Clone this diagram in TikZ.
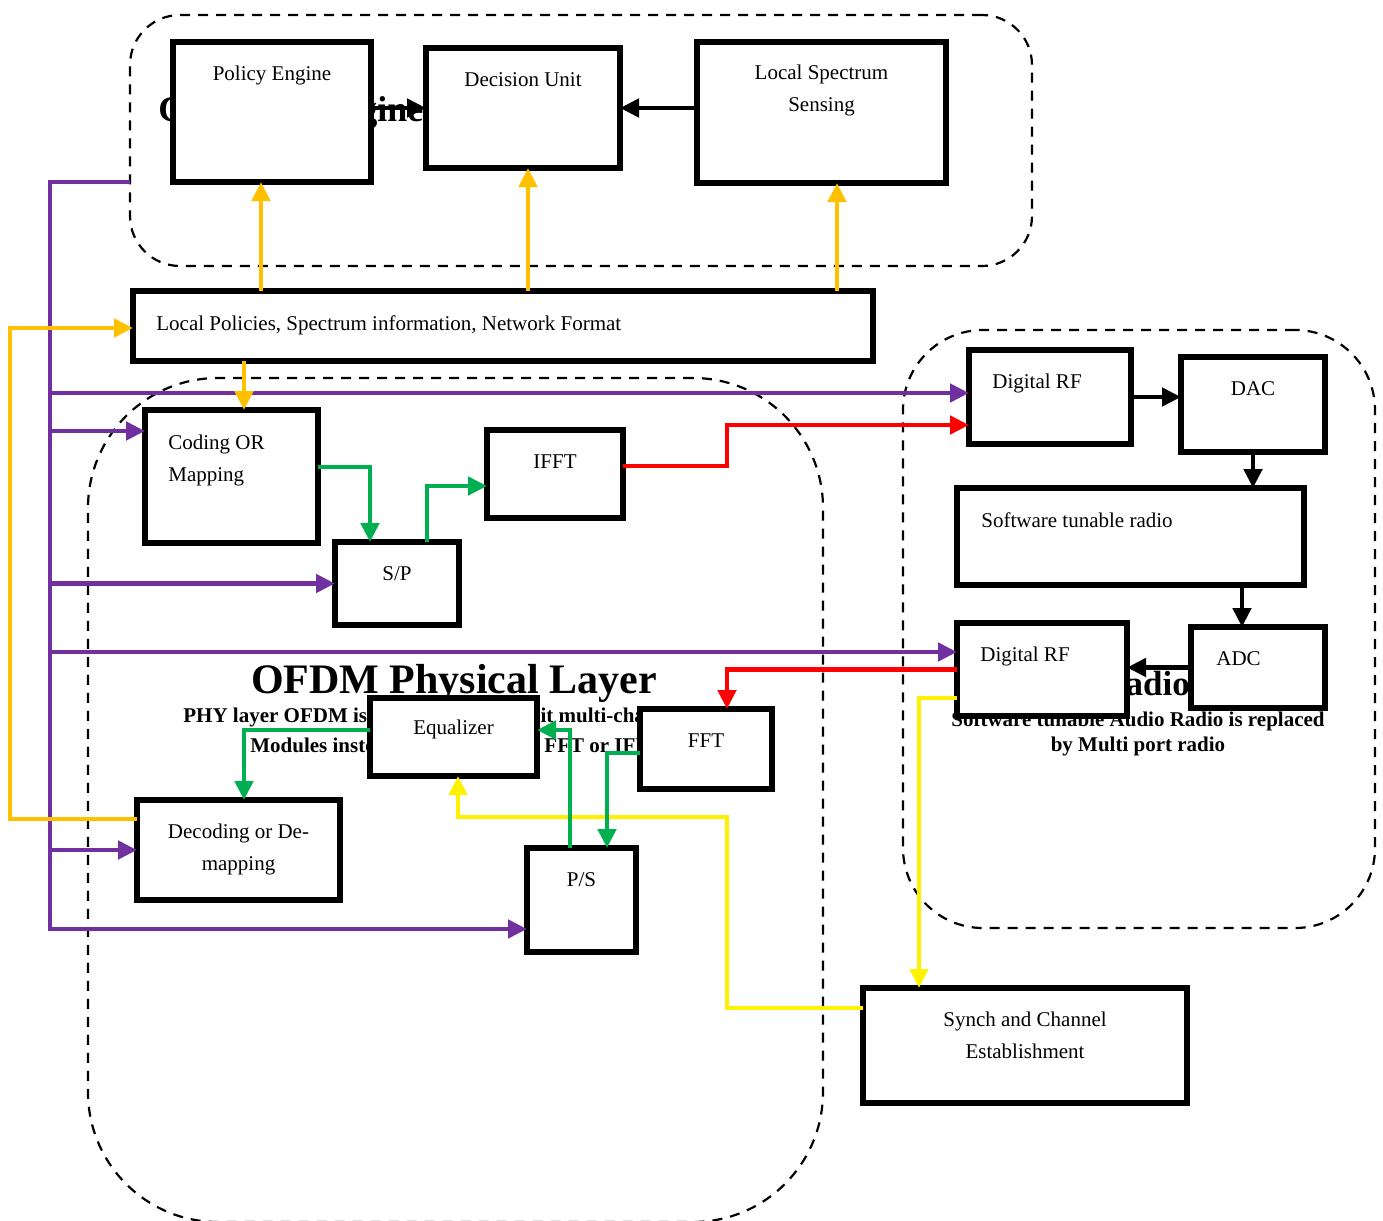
\documentclass[tikz,border=0pt]{standalone}
\usepackage{fontspec}
\setmainfont{Liberation Serif}
\usetikzlibrary{positioning,arrows.meta}

\definecolor{orng}{HTML}{FFC000}
\definecolor{purp}{HTML}{7030A0}
\definecolor{grn}{HTML}{00B050}

\tikzset{
	region/.style={draw,dash pattern=on 5pt off 4pt,line width=1.1pt,inner sep=0pt,outer sep=0pt},
	box/.style={draw,line width=2.6pt,fill=white,inner sep=0pt,outer sep=0pt},
	txt/.style={font=\fontsize{10.5}{16}\selectfont,inner sep=0pt,align=center},
	ltxt/.style={font=\fontsize{10.5}{16}\selectfont,inner sep=0pt,align=left},
	bigtxt/.style={font=\bfseries\fontsize{17.5}{20}\selectfont,inner sep=0pt},
	btxt/.style={font=\bfseries\fontsize{10.5}{12.5}\selectfont,inner sep=0pt,align=center},
	wire/.style={line width=2.4pt,->},
}

\begin{document}
\begin{tikzpicture}[x=0.5pt,y=-0.5pt,>={Triangle[length=9.5pt,width=9pt]}]
			\useasboundingbox (0,0) rectangle (1383,1221);
			
			% regions
			\node[region,rounded corners=25pt,anchor=north west,minimum width=451pt,minimum height=125.5pt] (cog) at (130,15) {};
			\node[region,rounded corners=65pt,anchor=north west,minimum width=367.5pt,minimum height=422pt] (ofdm) at (88,378) {};
			\node[region,rounded corners=40pt,anchor=north west,minimum width=236pt,minimum height=299pt] (radio) at (903,330) {};
			
			% titles (partly hidden by the boxes)
			\node[bigtxt,font=\bfseries\fontsize{18}{20}\selectfont,anchor=base west] (cogt) at (158,121) {Cognitive Engine};
			\node[bigtxt,font=\bfseries\fontsize{21}{24}\selectfont,anchor=base] (ofdmt) at (454,693) {OFDM Physical Layer};
			\node[btxt,anchor=base west] (phya) at (183,722) {PHY layer OFDM is replaced with a split multi-channel};
			\node[btxt,anchor=base west] (phyb) at (250,752) {Modules instead of conventional FFT or IFFT};
			\node[bigtxt,anchor=base west] (radiot) at (1100,695) {Radio};
			\node[btxt,anchor=north] (radiod) at (1138,711) {Software tunable Audio Radio is replaced\\by Multi port radio};
			
			% boxes
			\node[box,anchor=north west,minimum width=99pt,minimum height=70pt] (pe) at (173,42) {};
			\node[box,anchor=north west,minimum width=97pt,minimum height=60pt] (du) at (426,48) {};
			\node[box,anchor=north west,minimum width=124.5pt,minimum height=70.5pt] (lss) at (697,42) {};
			\node[box,anchor=north west,minimum width=370pt,minimum height=35pt] (lp) at (133,291) {};
			\node[box,anchor=north west,minimum width=86.5pt,minimum height=66.5pt] (cm) at (145,410) {};
			\node[box,anchor=north west,minimum width=68pt,minimum height=44pt] (ifft) at (487,430) {};
			\node[box,anchor=north west,minimum width=62pt,minimum height=41.5pt] (sp) at (335,542) {};
			\node[box,anchor=north west,minimum width=81pt,minimum height=47pt] (drfa) at (969,350) {};
			\node[box,anchor=north west,minimum width=72pt,minimum height=47.5pt] (dac) at (1181,357) {};
			\node[box,anchor=north west,minimum width=173.5pt,minimum height=48.5pt] (str) at (957,488) {};
			\node[box,anchor=north west,minimum width=85pt,minimum height=46.5pt] (drfb) at (957,623) {};
			\node[box,anchor=north west,minimum width=67pt,minimum height=40.5pt] (adc) at (1191,627) {};
			\node[box,anchor=north west,minimum width=83.5pt,minimum height=39pt] (eq) at (370,698) {};
			\node[box,anchor=north west,minimum width=66pt,minimum height=40pt] (fft) at (640,709) {};
			\node[box,anchor=north west,minimum width=101.5pt,minimum height=50pt] (dec) at (137,800) {};
			\node[box,anchor=north west,minimum width=54.5pt,minimum height=52pt] (ps) at (527,848) {};
			\node[box,anchor=north west,minimum width=162pt,minimum height=57.5pt] (syn) at (863,988) {};
			
			% box texts
			\node[txt,below=12pt of pe.north] (pet) {Policy Engine};
			\node[txt,below=12pt of du.north] (dut) {Decision Unit};
			\node[txt,below=11.5pt of lss.north] (lsst) {Local Spectrum\\Sensing};
			\node[ltxt,below right=12pt and 11.5pt of lp.north west] (lpt) {Local Policies, Spectrum information, Network Format};
			\node[ltxt,below right=12.5pt and 11.5pt of cm.north west] (cmt) {Coding OR\\Mapping};
			\node[txt,below=12pt of ifft.north] (ifftt) {IFFT};
			\node[txt,below=12pt of sp.north] (spt) {S/P};
			\node[ltxt,below right=12pt and 11.5pt of drfa.north west] (drfat) {Digital RF};
			\node[txt,below=12pt of dac.north] (dact) {DAC};
			\node[ltxt,below right=12pt and 12pt of str.north west] (strt) {Software tunable radio};
			\node[ltxt,below right=12pt and 11.5pt of drfb.north west] (drfbt) {Digital RF};
			\node[ltxt,below right=12pt and 12.5pt of adc.north west] (adct) {ADC};
			\node[txt,below=11pt of eq.north] (eqt) {Equalizer};
			\node[txt,below=12pt of fft.north] (fftt) {FFT};
			\node[txt,below=12pt of dec.north] (dect) {Decoding or De-\\mapping};
			\node[txt,below=12pt of ps.north] (pst) {P/S};
			\node[txt,below=12pt of syn.north] (synt) {Synch and Channel\\Establishment};
			
			% control bus
			\coordinate (bus) at (50,182);
			\draw[wire,purp] (cog.west |- bus) -- (bus) |- ([yshift=-14.5pt]ps.west);
			\draw[wire,purp,<-] ([yshift=2pt]drfa.west) -| (bus);
			\draw[wire,purp,<-] ([yshift=22.75pt]cm.west) -| (bus);
			\draw[wire,purp,<-] (sp.west) -| (bus);
			\draw[wire,purp,<-] ([yshift=8.75pt]drfb.west) -| (bus);
			\draw[wire,purp,<-] (dec.west) -| (bus);
			
			% policies
			\draw[wire,orng] ([xshift=-5.5pt]pe.south |- lp.north) -- ([xshift=-5.5pt]pe.south);
			\draw[wire,orng] ([xshift=2.5pt]du.south |- lp.north) -- ([xshift=2.5pt]du.south);
			\draw[wire,orng] ([xshift=7.75pt]lss.south |- lp.north) -- ([xshift=7.75pt]lss.south);
			\draw[wire,orng] ([xshift=6.25pt]cm.north |- lp.south) -- ([xshift=6.25pt]cm.north);
			\draw[wire,orng] ([yshift=15.5pt]dec.west) -- ++(-127,0) |- ([yshift=-1pt]lp.west);
			
			% synch
			\draw[wire,yellow] ([yshift=-14.25pt]drfb.west) -| ([xshift=-53pt]syn.north);
			\draw[wire,yellow] ([yshift=18.75pt]syn.west) -- ++(-136,0) -- ++(0,-191) -| ([xshift=2.25pt]eq.south);
			
			% rf path
			\draw[wire,red] ([yshift=4pt]ifft.east) -- ++(104,0) |- ([yshift=-14pt]drfa.west);
			\draw[wire,red] (drfb.west) -| ([xshift=10.5pt]fft.north);
			
			% data path
			\draw[wire,grn] ([yshift=4.75pt]cm.east) -| ([xshift=-13.5pt]sp.north);
			\draw[wire,grn] ([xshift=15pt]sp.north) |- ([yshift=-6pt]ifft.west);
			\draw[wire,grn] ([yshift=-2pt]fft.west) -| ([xshift=12.75pt]ps.north);
			\draw[wire,grn] ([xshift=-5.75pt]ps.north) |- ([yshift=3.5pt]eq.east);
			\draw[wire,grn] ([yshift=3.5pt]eq.west) -| ([xshift=2.75pt]dec.north);
			
			\draw[wire,black] (pe.east |- du.west) -- (du.west);
			\draw[wire,black] (lss.west |- du.east) -- (du.east);
			\draw[wire,black] (drfa.east) -- (drfa.east -| dac.west);
			\draw[wire,black] (dac.south) -- (dac.south |- str.north);
			\draw[wire,black] ([xshift=-8pt]adc.north |- str.south) -- ([xshift=-8pt]adc.north);
			\draw[wire,black] (adc.west) -- (adc.west -| drfb.east);
\end{tikzpicture}
\end{document}
